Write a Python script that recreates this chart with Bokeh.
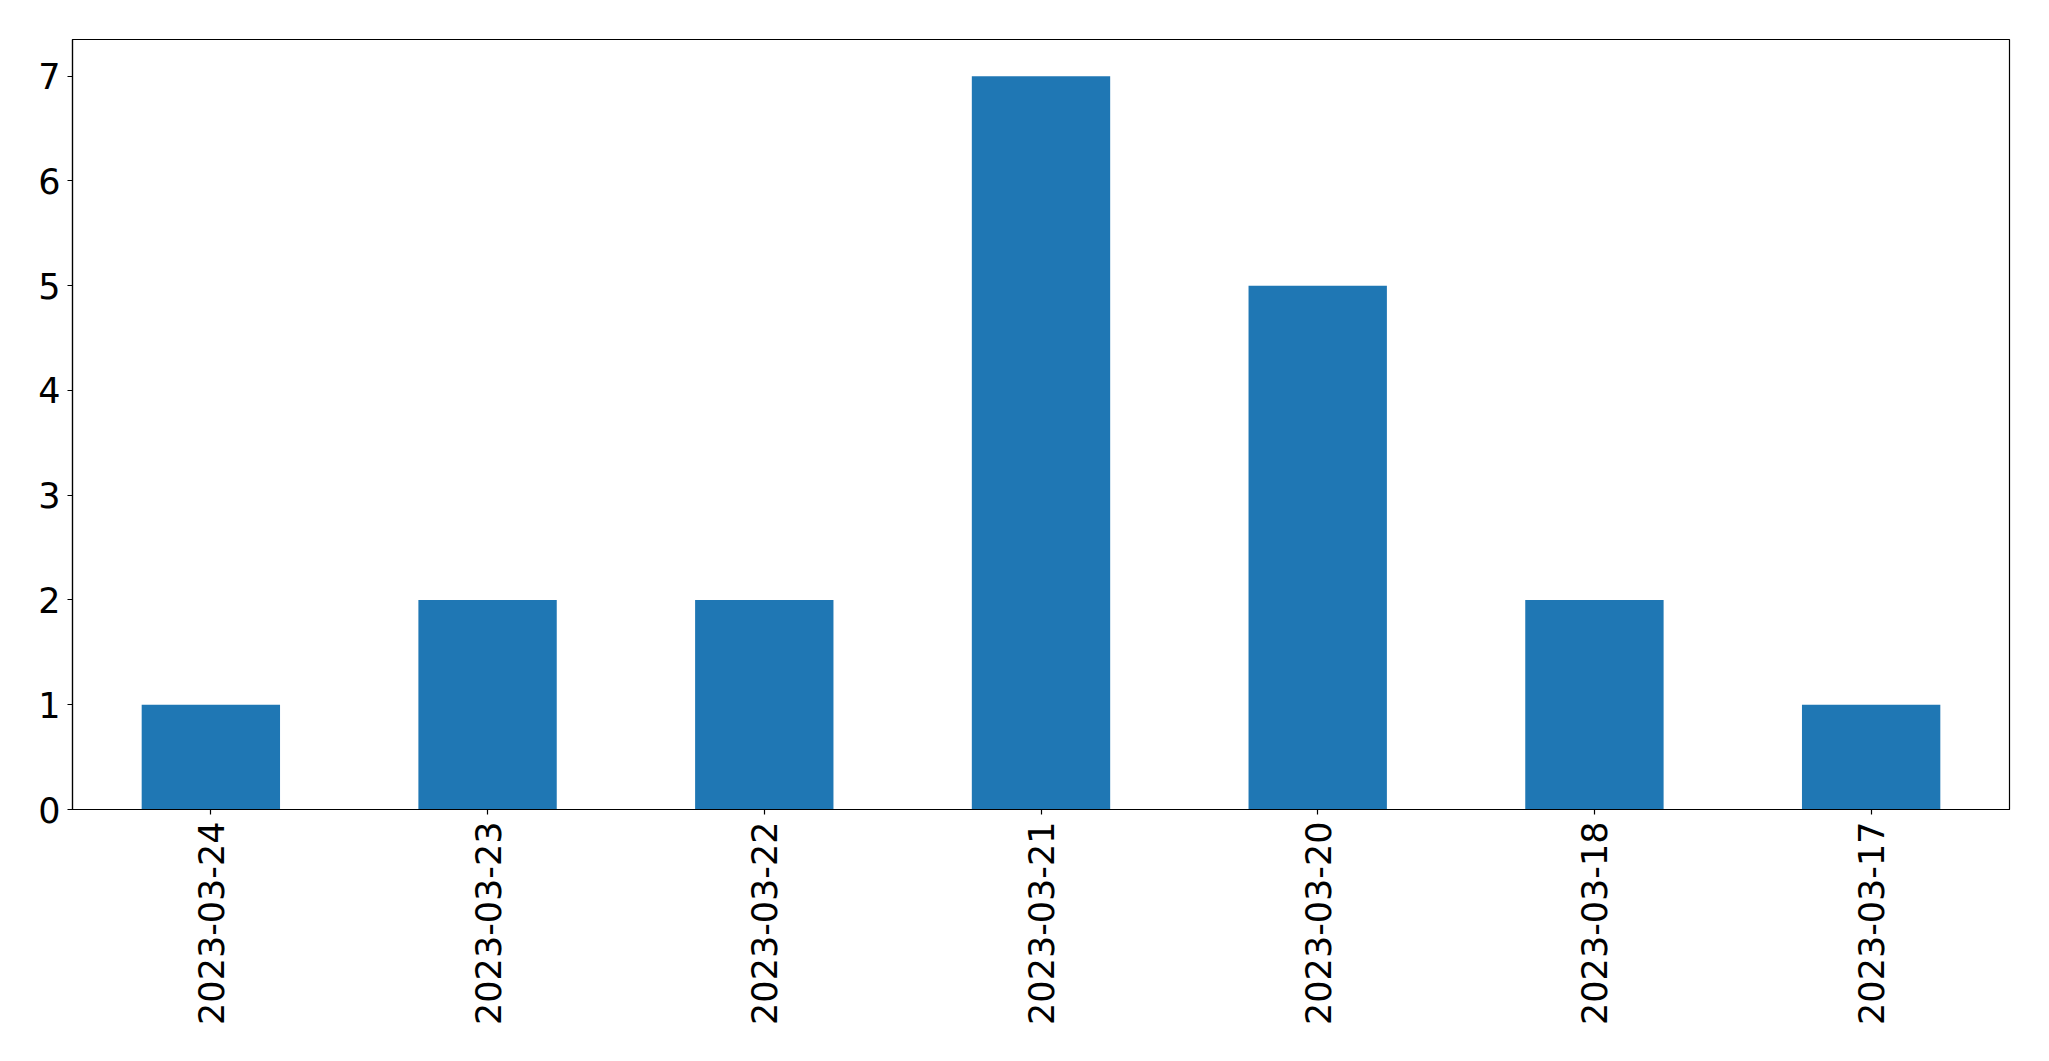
import math
from bokeh.plotting import figure
from bokeh.models import FactorRange, Range1d, FixedTicker, ColumnDataSource
from bokeh.embed import file_html
from bokeh.resources import INLINE

dates = ["2023-03-24", "2023-03-23", "2023-03-22", "2023-03-21",
         "2023-03-20", "2023-03-18", "2023-03-17"]
counts = [1, 2, 2, 7, 5, 2, 1]
y_ticks = [0, 1, 2, 3, 4, 5, 6, 7]

src = ColumnDataSource(data=dict(x=dates, top=counts))

p = figure(width=2041, height=1048, x_range=FactorRange(*dates),
           y_range=Range1d(0, 7.35), output_backend="svg", toolbar_location=None,
           min_border_left=72, min_border_right=32, min_border_top=39,
           min_border_bottom=239)
p.vbar(x="x", top="top", width=0.5, bottom=0, source=src,
       fill_color="#1f77b4", line_color=None)

p.xgrid.visible = False
p.ygrid.visible = False
p.outline_line_color = "black"
p.outline_line_width = 1.2
p.background_fill_color = "white"
p.border_fill_color = "white"

p.yaxis.ticker = FixedTicker(ticks=y_ticks)
for ax in (p.xaxis, p.yaxis):
    ax.axis_line_color = "black"
    ax.axis_line_width = 1.2
    ax.major_tick_line_color = "black"
    ax.major_tick_line_width = 1.2
    ax.major_tick_in = 0
    ax.major_tick_out = 5
    ax.minor_tick_line_color = None
    ax.major_label_text_font = "DejaVu Sans"
    ax.major_label_text_font_size = "35px"
    ax.major_label_text_color = "black"
    ax.major_label_standoff = 7

p.xaxis.major_label_orientation = math.pi / 2
p.xaxis.group_text_font_size = "0px"

open("out.html", "w").write(file_html(p, INLINE))
